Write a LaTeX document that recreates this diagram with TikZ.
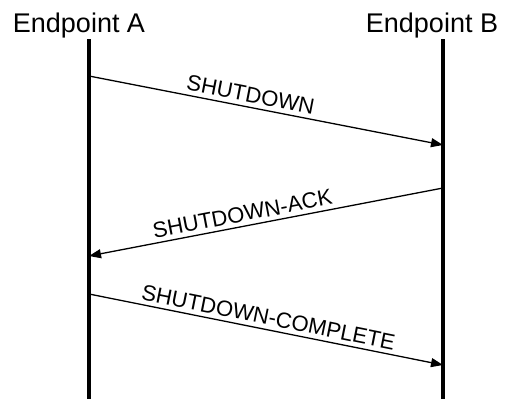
\documentclass[tikz,border=0pt]{standalone}
\usepackage{fontspec}
\setmainfont{Liberation Sans}
\usetikzlibrary{arrows.meta}

\begin{document}
\begin{tikzpicture}[
        x=1pt, y=-1pt,
        lifeline/.style={line width=4.5pt},
        msg/.style={line width=1.3pt, -{Triangle[length=12pt,width=9pt]}},
        msglabel/.style={sloped, above, font=\fontsize{22}{24}\selectfont, inner sep=4pt},
        endname/.style={anchor=base, font=\fontsize{27}{30}\selectfont, inner sep=0pt}
    ]
    \useasboundingbox (0,0) rectangle (506,399);

    \node[endname] (nameA) at (79,32) {Endpoint A};
    \node[endname] (nameB) at (432,32) {Endpoint B};

    \coordinate (topA) at (89,39);
    \coordinate (botA) at (89,399);
    \coordinate (topB) at (443,39);
    \coordinate (botB) at (443,399);
    \draw[lifeline] (topA) -- (botA);
    \draw[lifeline] (topB) -- (botB);

    \coordinate (shutA) at (89,76);
    \coordinate (shutB) at (443,145);
    \coordinate (ackB) at (443,188);
    \coordinate (ackA) at (89,256);
    \coordinate (compA) at (89,294);
    \coordinate (compB) at (443,365);

    \draw[msg] (shutA) -- node[msglabel, pos=0.45] {SHUTDOWN} (shutB);
    \draw[msg] (ackB) -- node[msglabel, pos=0.56] {SHUTDOWN-ACK} (ackA);
    \draw[msg] (compA) -- node[msglabel, pos=0.5] {SHUTDOWN-COMPLETE} (compB);
\end{tikzpicture}
\end{document}
